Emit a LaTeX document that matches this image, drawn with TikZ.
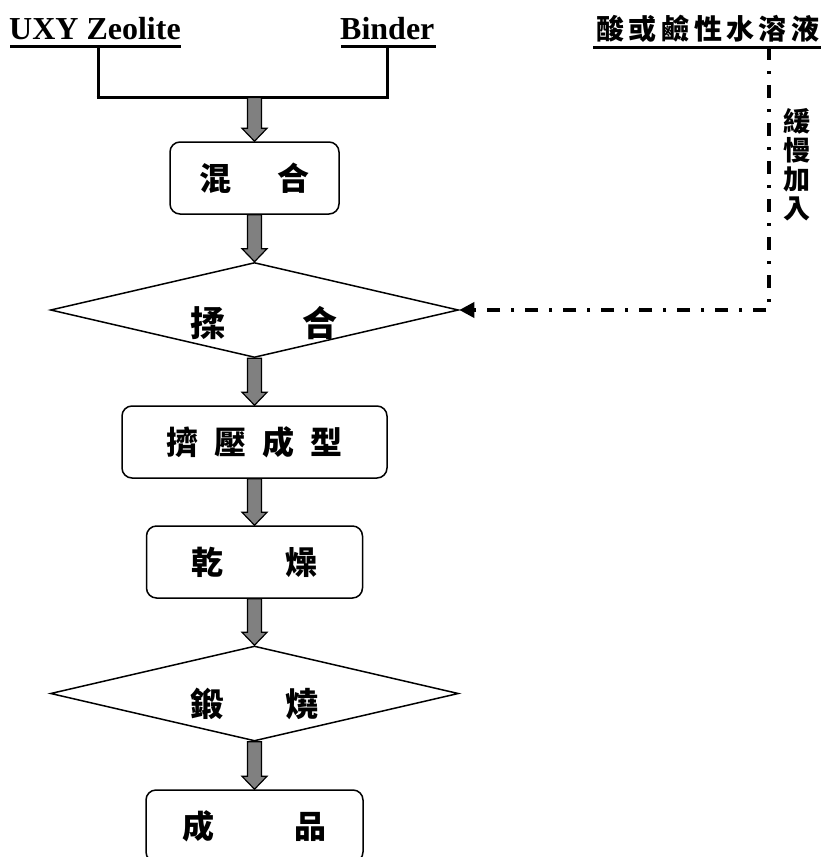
\documentclass[tikz,border=0pt]{standalone}
\usepackage{fontspec}
\setmainfont{Liberation Serif}
\newfontfamily\cjk{Noto Sans CJK TC}
\usetikzlibrary{shapes.geometric,arrows.meta,calc}
\definecolor{arrgray}{RGB}{128,128,128}
\tikzset{
  box/.style={draw, line width=1.5pt, rounded corners=10pt, inner sep=0pt},
  dia/.style={draw, diamond, line width=1.5pt, inner sep=0pt, minimum width=408pt, minimum height=95pt},
  cjkt/.style={font={\cjk\bfseries\fontsize{32}{36}\selectfont}, inner sep=0pt},
  cjkbig/.style={font={\cjk\bfseries\fontsize{35}{38}\selectfont}, inner sep=0pt},
  latin/.style={font={\bfseries\fontsize{32}{36}\selectfont}, inner sep=0pt},
  thickline/.style={line width=3pt},
  fatarr/.style={draw=black, fill=arrgray, line width=1.2pt, line join=miter},
  dashdotline/.style={line width=3.5pt, dash pattern=on 13pt off 11pt on 3pt off 11pt},
}
\newcommand\fatarrow[2]{%
  \path[fatarr] let \p1=(#1), \p2=(#2) in
    (\x1-7pt,\y1) -- (\x1+7pt,\y1) -- (\x1+7pt,\y2+13pt) -- (\x1+12.5pt,\y2+13pt)
    -- (\x1,\y2) -- (\x1-12.5pt,\y2+13pt) -- (\x1-7pt,\y2+13pt) -- cycle;}
\begin{document}
\begin{tikzpicture}[x=1pt,y=-1pt]
\useasboundingbox (0,0) rectangle (821,857);
\clip (0,0) rectangle (821,857);

% inputs
\node[latin, anchor=base west] (zeo) at (9,39) {UXY Zeolite};
\node[latin, anchor=base west] (bind) at (340,39) {Binder};
\coordinate (zul) at (10,46.5);
\coordinate (zur) at (181,46.5);
\coordinate (bul) at (341,46.5);
\coordinate (bur) at (436,46.5);
\draw[thickline] (zul) -- (zur);
\draw[thickline] (bul) -- (bur);
\coordinate (zdown) at (98,46.5);
\coordinate (bdown) at (387,46.5);
\coordinate (zj) at (98,96);
\coordinate (bj) at (387,96);
\draw[thickline] (zdown) -- (zj);
\draw[thickline] (bdown) -- (bj);
\draw[thickline] (96.5,97.5) -- (388.5,97.5);
\coordinate (junc) at (254.5,97.5);

% process
\node[box, minimum width=169pt, minimum height=72pt, cjkt] (mix) at (254.5,178) {混\hspace{47pt}合\hspace{19pt}};
\node[dia] (knead) at (254.5,310) {};
\node[cjkbig] (kneadtxt) at (254.5,323) {\hspace{19pt}揉\hspace{78pt}合};
\node[box, minimum width=265pt, minimum height=72pt, cjkt] (ext) at (254.5,442) {擠\hspace{16pt}壓\hspace{16pt}成\hspace{16pt}型};
\node[box, minimum width=216pt, minimum height=72pt, cjkt] (dry) at (254.5,562) {乾\hspace{63pt}燥};
\node[cjkt, font={\cjk\bfseries\fontsize{33}{36}\selectfont}] (calctxt) at (254.5,704) {鍛\hspace{63pt}燒};
\node[dia] (calc) at (254.5,693.5) {};
\node[box, minimum width=217pt, minimum height=72pt, cjkt] (prod) at (254.5,826) {成\hspace{80.5pt}品};

\fatarrow{junc}{mix.north}
\fatarrow{mix.south}{knead.north}
\fatarrow{knead.south}{ext.north}
\fatarrow{ext.south}{dry.north}
\fatarrow{dry.south}{calc.north}
\fatarrow{calc.south}{prod.north}

% acid / base solution
\node[font={\cjk\bfseries\fontsize{28}{30}\selectfont}, inner sep=0pt] (acid) at (708,29)
  {酸\hspace{4.5pt}或\hspace{4.5pt}鹼\hspace{4.5pt}性\hspace{4.5pt}水\hspace{4.5pt}溶\hspace{4.5pt}液};
\draw[line width=3pt] (593,47) -- (821,47);
\coordinate (acidline) at (769,47);
\draw[dashdotline, -{Triangle[length=15pt,width=15pt]}] (acidline) |- (knead.east);
\node[font={\cjk\bfseries\fontsize{27}{29}\selectfont}, align=center, inner sep=0pt] (slow) at (797,165) {緩\\慢\\加\\入};
\end{tikzpicture}
\end{document}
